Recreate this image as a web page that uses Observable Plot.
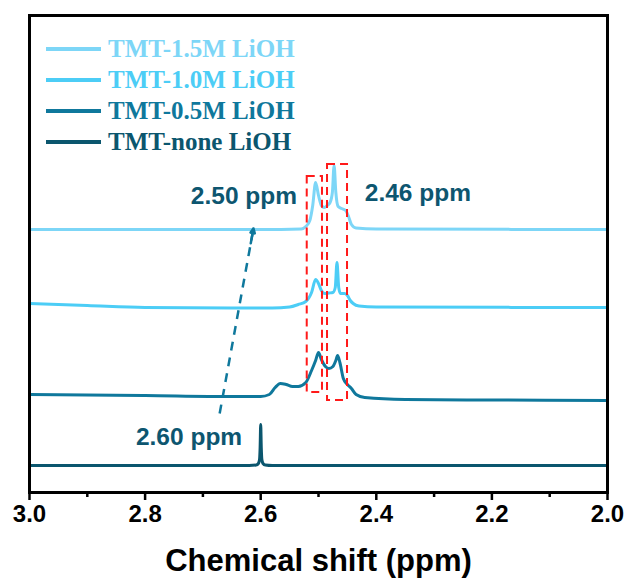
<!DOCTYPE html>
<html>
<head>
<meta charset="utf-8">
<script src="https://cdn.jsdelivr.net/npm/d3@7"></script>
<script src="https://cdn.jsdelivr.net/npm/@observablehq/plot@0.6"></script>
<style>
  html, body { margin: 0; padding: 0; background: #fff; }
  #wrap { position: relative; width: 629px; height: 588px; }
  #legend { position: absolute; left: 46px; top: 33px; font-family: "Liberation Serif", "Times New Roman", serif; font-weight: bold; font-size: 25px; }
  .row { display: flex; align-items: center; height: 31px; }
  .row svg { margin-right: 7px; }
</style>
</head>
<body>
<div id="wrap"><div id="legend"></div></div>
<script>
// ---- series (chemical shift in ppm, stacked intensity in arbitrary units) ----
const seriesNames  = ["TMT-1.5M LiOH", "TMT-1.0M LiOH", "TMT-0.5M LiOH", "TMT-none LiOH"];
const seriesColors = ["#7dd6f7", "#4ccdf6", "#0f789c", "#0b566e"];

const ppm_15 = [3.0, 2.6, 2.53, 2.522, 2.515, 2.51, 2.505, 2.5, 2.495, 2.49, 2.485, 2.48, 2.476, 2.473, 2.47, 2.466, 2.46, 2.453, 2.448, 2.443, 2.435, 2.4, 2.0];
const int_15 = [263, 263, 263.5, 266, 272, 287, 310, 297, 287, 285, 287, 290, 300, 327, 300, 286, 284, 282, 276, 268, 264.5, 263.5, 263];

const ppm_10 = [3.0, 2.9, 2.8, 2.65, 2.58, 2.55, 2.535, 2.522, 2.512, 2.505, 2.5, 2.495, 2.489, 2.482, 2.475, 2.471, 2.468, 2.465, 2.462, 2.455, 2.45, 2.445, 2.44, 2.43, 2.4, 2.0];
const int_10 = [189, 187, 185, 184.5, 184.5, 185.5, 188, 191, 200, 213, 209, 202, 199, 199.5, 200, 205, 230, 205, 199, 199, 197, 192, 189, 186.5, 185.5, 185];

const ppm_05 = [3.0, 2.8, 2.65, 2.6, 2.585, 2.575, 2.566, 2.556, 2.545, 2.535, 2.522, 2.512, 2.505, 2.5, 2.495, 2.488, 2.482, 2.475, 2.47, 2.467, 2.463, 2.457, 2.45, 2.443, 2.435, 2.42, 2.35, 2.2, 2.0];
const int_05 = [98, 97, 96, 96, 98, 105, 109, 108, 106, 106, 110, 122, 132, 140, 133, 126, 124, 126, 132, 137, 130, 114, 108, 104, 98, 95, 93, 92.5, 92];

const ppm_00 = [3.0, 2.62, 2.608, 2.604, 2.602, 2.601, 2.6, 2.599, 2.598, 2.596, 2.592, 2.58, 2.0];
const int_00 = [27, 27, 27.5, 29, 33, 45, 68, 45, 33, 29, 27.5, 27, 27];

// ---- axis ticks ----
const majorTicks = [3.0, 2.8, 2.6, 2.4, 2.2, 2.0];
const minorTicks = [2.9, 2.7, 2.5, 2.3, 2.1];
const xTitle = "Chemical shift (ppm)";

// ---- annotations ----
const noteText = ["2.50 ppm", "2.46 ppm", "2.60 ppm"];
const noteX    = [2.629, 2.328, 2.724];
const noteY    = [296, 299, 55];

const boxX1 = [2.5195, 2.4844];
const boxX2 = [2.4931, 2.4498];
const boxY1 = [100, 92];
const boxY2 = [316, 328];

const arrowFrom = [2.671, 79];
const arrowTo   = [2.6125, 264];

// ---- build tables ----
const pairs = [[ppm_15, int_15], [ppm_10, int_10], [ppm_05, int_05], [ppm_00, int_00]];
const tables = pairs.map(([xs, ys], i) => xs.map((x, j) => ({x, y: ys[j], s: seriesNames[i]})));
const notes = noteText.map((t, i) => ({t, x: noteX[i], y: noteY[i]}));
const boxes = boxX1.map((x1, i) => ({x1, x2: boxX2[i], y1: boxY1[i], y2: boxY2[i]}));
const t = 0.92;
const headStart = [arrowFrom[0] + t * (arrowTo[0] - arrowFrom[0]), arrowFrom[1] + t * (arrowTo[1] - arrowFrom[1])];

const noteColor = "#0d5670";
const sans = "Liberation Sans, Arial, sans-serif";

const chart = Plot.plot({
  width: 629,
  height: 588,
  marginLeft: 29,
  marginRight: 22,
  marginTop: 15,
  marginBottom: 96,
  x: {domain: [3.0, 2.0], axis: null},
  y: {domain: [0, 477], axis: null},
  marks: [
    ...tables.map((tb, i) => Plot.line(tb, {x: "x", y: "y", stroke: seriesColors[i], strokeWidth: 3, curve: "monotone-x"})),
    Plot.rect(boxes, {x1: "x1", x2: "x2", y1: "y1", y2: "y2", fill: "none", stroke: "#ff1a1a", strokeWidth: 2, strokeDasharray: "8,5"}),
    Plot.link([0], {x1: () => arrowFrom[0], y1: () => arrowFrom[1], x2: () => arrowTo[0], y2: () => arrowTo[1], stroke: "#0f789c", strokeWidth: 2.5, strokeDasharray: "9,7"}),
    Plot.arrow([0], {x1: () => headStart[0], y1: () => headStart[1], x2: () => arrowTo[0], y2: () => arrowTo[1], stroke: "#0f789c", strokeWidth: 2.5, headLength: 12, headAngle: 50}),
    Plot.text(notes, {x: "x", y: "y", text: "t", fill: noteColor, fontSize: 24.5, fontWeight: "bold", fontFamily: sans, lineAnchor: "middle"}),
    Plot.axisX(minorTicks, {tickSize: 5, strokeWidth: 2.5, tickFormat: () => "", label: null}),
    Plot.axisX(majorTicks, {tickSize: 8, tickPadding: 4, strokeWidth: 2.5, tickFormat: d3.format(".1f"), fontSize: 24, fontWeight: "bold", fontFamily: sans, fill: "black", label: null}),
    Plot.text([xTitle], {frameAnchor: "bottom", dy: 69, fontSize: 31, fontWeight: "bold", fontFamily: sans, lineAnchor: "middle", fill: "black"}),
    Plot.frame({stroke: "black", strokeWidth: 3})
  ]
});
document.getElementById("wrap").prepend(chart);

// legend
const legend = document.getElementById("legend");
seriesNames.forEach((name, i) => {
  const row = document.createElement("div");
  row.className = "row";
  row.style.color = seriesColors[i];
  row.innerHTML = `<svg width="55" height="6"><line x1="0" x2="55" y1="3" y2="3" stroke="${seriesColors[i]}" stroke-width="4"/></svg><span>${name}</span>`;
  legend.appendChild(row);
});
</script>
</body>
</html>
